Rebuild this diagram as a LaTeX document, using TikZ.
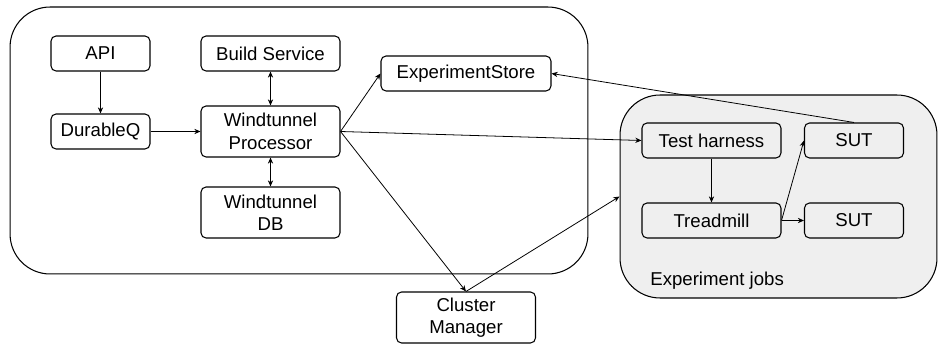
\documentclass[tikz,border=0pt]{standalone}
\usepackage{fontspec}
\setmainfont{Liberation Sans}
\usetikzlibrary{arrows.meta}
\definecolor{jobsgray}{HTML}{EFEFEF}

\tikzset{
  box/.style={draw, rounded corners=0.1cm, line width=0.6pt, align=center, inner sep=0pt,
    font=\fontsize{10.6}{12.8}\selectfont},
  smallbox/.style={box, minimum width=1.98cm, minimum height=0.7cm},
  widebox/.style={box, minimum width=2.78cm, minimum height=0.7cm},
  tallbox/.style={box, minimum width=2.78cm, minimum height=1.02cm},
  area/.style={draw, rounded corners=0.8cm, line width=0.6pt, inner sep=0pt},
  link/.style={line width=0.45pt, -{Stealth[length=3.5pt,width=3pt]}},
  twoway/.style={line width=0.45pt, {Stealth[length=3.5pt,width=3pt]}-{Stealth[length=3.5pt,width=3pt]}}
}

\begin{document}
\begin{tikzpicture}[x=0.02cm, y=-0.02cm]
	%%%%% START %%%%%
	\useasboundingbox (0,0) rectangle (938,344);
	
	\node[area, minimum width=11.56cm, minimum height=5.34cm] (windtunnel) at (299,140.5) {};
	\node[area, fill=jobsgray, minimum width=6.34cm, minimum height=4.06cm] (jobs) at (778.5,196.5) {};
	\node[anchor=west, inner sep=0pt, font=\fontsize{10.6}{12.8}\selectfont] (jobslabel) at (650,281) {Experiment jobs};
	
	\node[smallbox] (api) at (100.5,53.5) {API};
	\node[smallbox] (durableq) at (100.5,131.5) {DurableQ};
	\node[widebox] (build) at (270.5,53.5) {Build Service};
	\node[tallbox] (processor) at (270.5,131.5) {Windtunnel\\Processor};
	\node[tallbox] (db) at (270.5,212.5) {Windtunnel\\DB};
	\node[box, minimum width=3.4cm, minimum height=0.7cm] (store) at (466,73.5) {ExperimentStore};
	\node[tallbox] (cluster) at (466,317.5) {Cluster\\Manager};
	
	\node[widebox] (harness) at (711.5,140.5) {Test harness};
	\node[widebox] (treadmill) at (711.5,220.5) {Treadmill};
	\node[smallbox] (sutA) at (854,140.5) {SUT};
	\node[smallbox] (sutB) at (854,220.5) {SUT};
	
	\draw[link] (api) -- (durableq);
	\draw[link] (durableq) -- (processor);
	\draw[twoway] (build) -- (processor);
	\draw[twoway] (processor) -- (db);
	
	\draw[link] (processor.east) -- (store.west);
	\draw[link] (processor.east) -- (harness.west);
	\draw[link] (processor.east) -- (cluster.north);
	\draw[link] (cluster.north) -- (jobs.west);
	\draw[link] (sutA.north) -- (store.east);
	
	\draw[link] (harness) -- (treadmill);
	\draw[link] (treadmill.east) -- (sutA.west);
	\draw[link] (treadmill.east) -- (sutB.west);
	
	%%%%% END %%%%%
\end{tikzpicture}
\end{document}
